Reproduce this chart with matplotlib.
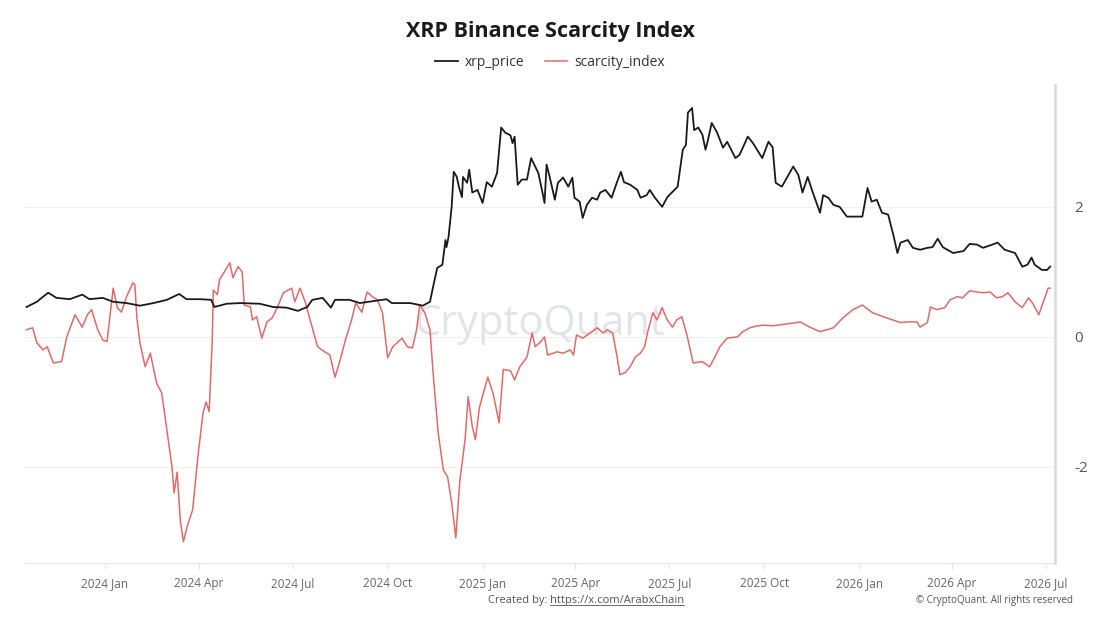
import matplotlib
matplotlib.use("Agg")
import matplotlib.pyplot as plt
import matplotlib.dates as mdates
import pandas as pd
import numpy as np

plt.rcParams['font.family'] = ['Open Sans', 'DejaVu Sans']

# ---- data (days since 2024-01-01) ----
price_days = [-76, -66, -55, -47, -34, -22, -15, -2, 8, 21, 34, 47, 60, 72, 79, 92, 103, 106, 118, 131,
              150, 163, 176, 187, 196, 201, 211, 219, 223, 237, 247, 260, 273, 278, 296, 308, 315, 318, 322, 327,
              330, 331, 333, 336, 338, 341, 343, 346, 347, 351, 353, 356, 361, 366, 370, 375, 380, 384, 388, 393,
              395, 397, 399, 400, 404, 409, 413, 417, 420, 424, 426, 428, 431, 436, 439, 444, 449, 453, 455, 460,
              463, 467, 472, 477, 480, 485, 491, 496, 500, 503, 509, 516, 519, 525, 528, 533, 540, 545, 550, 555,
              560, 563, 565, 569, 571, 575, 579, 582, 584, 588, 593, 599, 603, 611, 615, 623, 628, 637, 643, 647,
              650, 656, 661, 667, 672, 676, 681, 686, 693, 696, 701, 706, 712, 719, 725, 734, 739, 743, 748, 753,
              759, 764, 768, 771, 778, 783, 790, 797, 802, 807, 812, 822, 832, 838, 845, 851, 860, 865, 872, 882,
              889, 894, 898, 901, 908, 913, 916]
xrp_price = [0.46, 0.54, 0.68, 0.60, 0.58, 0.65, 0.58, 0.60, 0.54, 0.52, 0.48, 0.52, 0.57, 0.66, 0.58, 0.58, 0.57, 0.46, 0.51, 0.52,
             0.51, 0.46, 0.45, 0.40, 0.46, 0.57, 0.60, 0.45, 0.57, 0.57, 0.52, 0.55, 0.58, 0.52, 0.52, 0.48, 0.54, 0.77, 1.06, 1.11,
             1.49, 1.38, 1.54, 2.00, 2.54, 2.46, 2.31, 2.15, 2.46, 2.37, 2.57, 2.22, 2.26, 2.06, 2.38, 2.31, 2.52, 3.22, 3.14, 3.10,
             2.98, 3.08, 2.57, 2.34, 2.42, 2.42, 2.75, 2.62, 2.52, 2.22, 2.06, 2.65, 2.46, 2.11, 2.37, 2.45, 2.31, 2.45, 2.14, 2.08,
             1.83, 2.03, 2.14, 2.11, 2.22, 2.26, 2.14, 2.37, 2.54, 2.38, 2.34, 2.26, 2.14, 2.18, 2.26, 2.14, 2.00, 2.15, 2.23, 2.31,
             2.88, 2.95, 3.45, 3.52, 3.18, 3.22, 3.11, 2.88, 3.00, 3.29, 3.15, 2.91, 3.00, 2.75, 2.80, 3.08, 2.98, 2.75, 3.00, 2.92,
             2.37, 2.31, 2.45, 2.62, 2.49, 2.22, 2.46, 2.22, 1.91, 2.18, 2.14, 2.03, 2.00, 1.85, 1.85, 1.85, 2.29, 2.08, 2.11, 1.91,
             1.88, 1.57, 1.29, 1.45, 1.49, 1.37, 1.34, 1.37, 1.38, 1.51, 1.38, 1.29, 1.32, 1.43, 1.42, 1.37, 1.42, 1.45, 1.34, 1.29,
             1.08, 1.11, 1.22, 1.11, 1.03, 1.03, 1.08]

scarcity_days = [-76, -70, -66, -60, -56, -50, -42, -37, -29, -22, -17, -13, -7, -2, 2, 8, 12, 16, 21, 27,
                 29, 31, 34, 39, 44, 50, 55, 60, 65, 67, 70, 73, 76, 80, 85, 90, 95, 98, 101, 104,
                 105, 109, 111, 115, 121, 124, 129, 133, 135, 141, 143, 147, 152, 157, 162, 167, 173, 181, 184, 189,
                 194, 201, 206, 213, 218, 223, 228, 233, 239, 243, 249, 254, 259, 264, 269, 274, 279, 288, 293, 298,
                 302, 305, 310, 315, 318, 323, 328, 332, 336, 340, 344, 349, 352, 356, 359, 363, 371, 376, 382, 386,
                 393, 397, 402, 409, 414, 417, 422, 426, 429, 438, 444, 451, 454, 457, 463, 472, 477, 483, 487, 492,
                 496, 499, 504, 509, 514, 519, 523, 526, 531, 535, 540, 545, 550, 554, 559, 564, 570, 579, 586, 591,
                 596, 603, 613, 618, 625, 632, 638, 647, 661, 674, 683, 693, 706, 715, 725, 734, 744, 758, 771, 778,
                 787, 790, 797, 800, 806, 814, 819, 826, 831, 838, 845, 851, 858, 864, 870, 875, 882, 889, 895, 899,
                 905, 909, 914, 916]
scarcity_index = [0.11, 0.14, -0.09, -0.20, -0.15, -0.40, -0.38, 0.00, 0.34, 0.15, 0.34, 0.42, 0.11, -0.05, -0.07, 0.75, 0.45, 0.38, 0.62, 0.83,
                  0.80, 0.29, -0.10, -0.46, -0.25, -0.71, -0.86, -1.43, -2.00, -2.40, -2.08, -2.82, -3.15, -2.90, -2.66, -1.85, -1.17, -1.00, -1.15, -0.05,
                  0.72, 0.65, 0.88, 0.98, 1.14, 0.91, 1.08, 1.00, 0.49, 0.46, 0.26, 0.31, -0.02, 0.23, 0.29, 0.45, 0.68, 0.75, 0.54, 0.75,
                  0.54, 0.14, -0.15, -0.23, -0.28, -0.62, -0.35, -0.05, 0.26, 0.52, 0.38, 0.69, 0.62, 0.57, 0.37, -0.32, -0.15, -0.02, -0.15, -0.17,
                  0.11, 0.49, 0.37, 0.11, -0.55, -1.48, -2.05, -2.15, -2.55, -3.09, -2.20, -1.58, -0.92, -1.38, -1.58, -1.08, -0.62, -0.86, -1.32, -0.50,
                  -0.52, -0.66, -0.46, -0.31, 0.06, -0.15, -0.08, 0.00, -0.28, -0.23, -0.25, -0.20, -0.28, 0.03, -0.02, 0.08, 0.14, 0.06, 0.11, 0.06,
                  -0.28, -0.58, -0.55, -0.46, -0.31, -0.25, -0.15, 0.08, 0.37, 0.26, 0.45, 0.26, 0.15, 0.26, 0.31, 0.03, -0.40, -0.38, -0.46, -0.31,
                  -0.15, -0.02, 0.00, 0.08, 0.14, 0.17, 0.18, 0.17, 0.20, 0.23, 0.15, 0.08, 0.14, 0.29, 0.42, 0.49, 0.37, 0.29, 0.22, 0.23,
                  0.23, 0.15, 0.22, 0.46, 0.42, 0.45, 0.57, 0.62, 0.60, 0.71, 0.69, 0.68, 0.69, 0.60, 0.62, 0.68, 0.54, 0.45, 0.60, 0.52,
                  0.34, 0.52, 0.75, 0.75]

x_ticks = ['2024-01-01', '2024-04-01', '2024-07-01', '2024-10-01', '2025-01-01', '2025-04-01',
           '2025-07-01', '2025-10-01', '2026-01-01', '2026-04-01', '2026-07-01']
y_ticks = [-2, 0, 2]

base = pd.Timestamp('2024-01-01')
price_dates = base + pd.to_timedelta(price_days, unit='D')
scar_dates = base + pd.to_timedelta(scarcity_days, unit='D')

fig = plt.figure(figsize=(11, 6.19), dpi=100)
ax = fig.add_axes([0.0227, 0.0905, 0.9363, 0.7725])

ax.plot(price_dates, xrp_price, color='#1a1a1a', lw=1.3, label='xrp_price', zorder=3)
ax.plot(scar_dates, scarcity_index, color='#e06a6a', lw=1.1, label='scarcity_index', zorder=2)

ax.set_xlim(base + pd.Timedelta(days=-77.5), base + pd.Timedelta(days=920.6))
ax.set_ylim(-3.477, 3.877)

ax.yaxis.tick_right()
ax.set_yticks(y_ticks)
ax.set_yticklabels([str(v) for v in y_ticks])
ax.tick_params(axis='y', length=0, pad=14, labelsize=11, labelcolor='#555555')
tick_dates = pd.to_datetime(x_ticks)
ax.set_xticks(tick_dates)
ax.set_xticklabels([d.strftime('%Y %b') for d in tick_dates])
ax.tick_params(axis='x', length=4, color='#e6e6e6', pad=6, labelsize=8.5, labelcolor='#666666')

ax.grid(axis='y', color='#f0f0f0', lw=0.8)
ax.grid(axis='x', visible=False)
for s in ['top', 'left']:
    ax.spines[s].set_visible(False)
ax.spines['right'].set_color('#d8d9de')
ax.spines['right'].set_linewidth(1.8)
ax.spines['bottom'].set_color('#e6e6e6')
ax.spines['bottom'].set_linewidth(0.8)
ax.set_axisbelow(True)

ax.text(0.5, 0.5, 'CryptoQuant', transform=ax.transAxes, ha='center', va='center',
        fontsize=30, color='#e3e4e9', zorder=1, fontweight='medium')

fig.text(0.5, 1 - 32 / 619, 'XRP Binance Scarcity Index', ha='center', va='center',
         fontsize=15.5, fontweight='bold', color='#1a1a1a')
fig.legend(loc='center', bbox_to_anchor=(0.5, 1 - 62 / 619), ncol=2, frameon=False,
           fontsize=10, handlelength=1.6, handletextpad=0.5, columnspacing=1.5,
           labelcolor='#333333')

fig.text(0.5, 1 - 600 / 619, 'Created by: ', ha='right', va='center', fontsize=8, color='#555555',
         transform=fig.transFigure)
t = fig.text(0.5, 1 - 600 / 619, 'https://x.com/ArabxChain', ha='left', va='center', fontsize=8,
             color='#555555')
fig.text(0.5, 1 - 600 / 619, '', ha='left')
fig.text(1073 / 1100, 1 - 600 / 619, '© CryptoQuant. All rights reserved', ha='right', va='center',
         fontsize=7, color='#555555')

fig.canvas.draw()
bb = t.get_window_extent()
from matplotlib.lines import Line2D
fig.add_artist(Line2D([bb.x0 / fig.bbox.width, bb.x1 / fig.bbox.width],
                      [(bb.y0 + 1) / fig.bbox.height] * 2, color='#555555', lw=0.6,
                      transform=fig.transFigure))

fig.savefig('out.png', dpi=100)
